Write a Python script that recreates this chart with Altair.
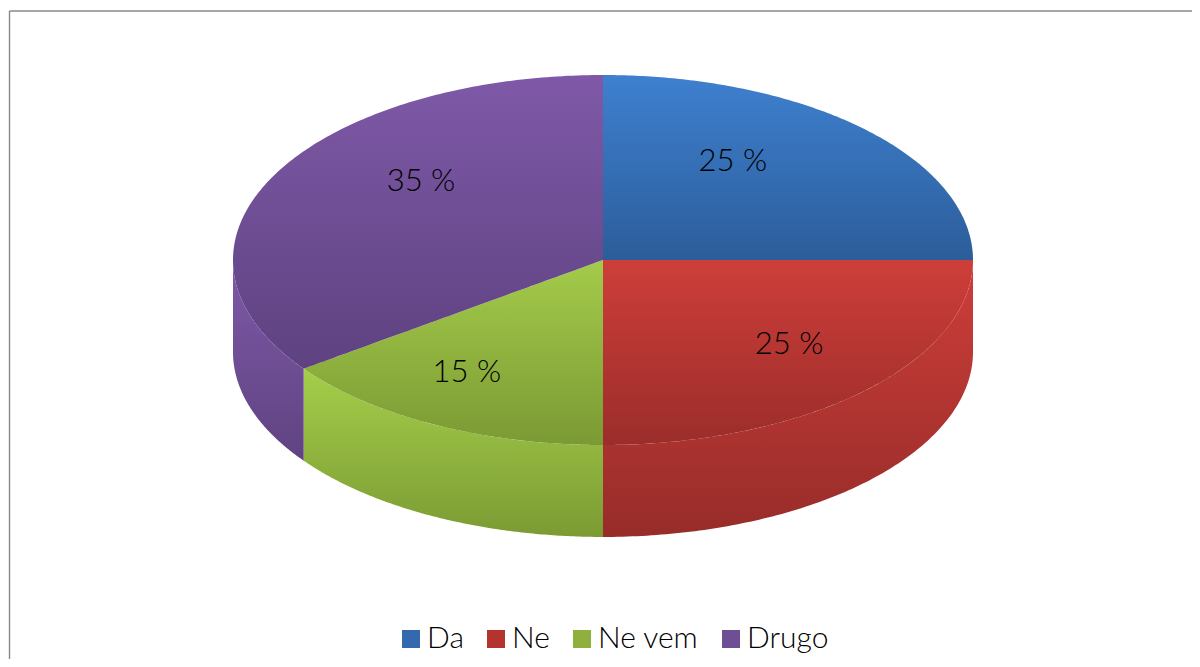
import numpy as np
import pandas as pd
import altair as alt

categories = ["Da", "Ne", "Ne vem", "Drugo"]
shares = [25, 25, 15, 35]
labels = ["25 %", "25 %", "15 %", "35 %"]
legend_colors = ["#3569AE", "#B5332F", "#8FB03E", "#6E4E94"]
top_colors = {
    "Da": ("#3E80CF", "#2C5D9A"),
    "Ne": ("#CE3E3A", "#9B2D2A"),
    "Ne vem": ("#A4CB4A", "#7B9A34"),
    "Drugo": ("#7F59A8", "#5E4280"),
}
wall_colors = {
    "Ne": ("#CE3E3A", "#972C29"),
    "Ne vem": ("#A5CE4A", "#7B9B33"),
    "Drugo": ("#7F59A8", "#5F4381"),
}
label_x = [0.351, 0.503, -0.368, -0.492]
label_y = [0.532, -0.457, -0.613, 0.424]

DEPTH = 0.497
X_DOMAIN = [-1.6081, 1.5919]
Y_DOMAIN = [-2.1568, 1.3622]

edges = np.cumsum([0] + shares) / 100 * 2 * np.pi


def gradient(pair):
    return alt.LinearGradient(
        gradient="linear", x1=0, x2=0, y1=0, y2=1,
        stops=[alt.GradientStop(color=pair[0], offset=0),
               alt.GradientStop(color=pair[1], offset=1)],
    )


def face_rows(a, b):
    th = np.linspace(a, b, 160)
    px = np.r_[0.0, np.sin(th)]
    py = np.r_[0.0, np.cos(th)]
    xs = np.unique(np.round(px, 6))
    rows = []
    for x in xs:
        ys = []
        n = len(px)
        for i in range(n):
            j = (i + 1) % n
            x0, x1, y0, y1 = px[i], px[j], py[i], py[j]
            lo, hi = min(x0, x1) - 1e-6, max(x0, x1) + 1e-6
            if lo <= x <= hi:
                if abs(x1 - x0) < 1e-9:
                    ys += [y0, y1]
                else:
                    t = min(1, max(0, (x - x0) / (x1 - x0)))
                    ys.append(y0 + t * (y1 - y0))
        rows.append({"x": float(x), "y": float(max(ys)), "y2": float(min(ys))})
    return pd.DataFrame(rows)


def wall_rows(a, b):
    a, b = max(a, np.pi / 2), min(b, 3 * np.pi / 2)
    th = np.linspace(a, b, 120)
    return pd.DataFrame({"x": np.sin(th), "y": np.cos(th), "y2": np.cos(th) - DEPTH}).sort_values("x")


xs = alt.Scale(domain=X_DOMAIN, nice=False, zero=False)
ys = alt.Scale(domain=Y_DOMAIN, nice=False, zero=False)
X = alt.X("x:Q", scale=xs, axis=None)
Y = alt.Y("y:Q", scale=ys, axis=None)


def area(df, pair):
    return alt.Chart(df).mark_area(
        color=gradient(pair), interpolate="linear", orient="vertical"
    ).encode(x=X, y=Y, y2=alt.Y2("y2:Q"))


layers = []
for i, name in enumerate(categories):
    if name in wall_colors:
        layers.append(area(wall_rows(edges[i], edges[i + 1]), wall_colors[name]))
for i, name in enumerate(categories):
    layers.append(area(face_rows(edges[i], edges[i + 1]), top_colors[name]))

table = pd.DataFrame({"cat": categories, "label": labels, "x": label_x, "y": label_y})

text = alt.Chart(table).mark_text(
    font="Lato", fontSize=31, fontWeight=300, color="#000000", align="center", baseline="middle"
).encode(x=X, y=Y, text="label:N")

legend = alt.Chart(table).mark_point(filled=True, shape="square", opacity=0, size=1).encode(
    x=X, y=Y,
    color=alt.Color(
        "cat:N",
        scale=alt.Scale(domain=categories, range=legend_colors),
        legend=alt.Legend(
            title=None, orient="none", legendX=388, legendY=616, direction="horizontal",
            columns=4, gridAlign="none", columnPadding=17,
            symbolType="square", symbolSize=324, symbolOpacity=1, symbolStrokeWidth=0,
            labelFont="Lato", labelFontSize=30, labelFontWeight=300, labelColor="#000000",
            labelOffset=1, labelLimit=200,
        ),
    ),
)

frame = pd.DataFrame({
    "x": [-1.604, -1.604],
    "x2": [-1.604, 1.5919],
    "y": [1.346, 1.346],
    "y2": [-2.1568, 1.346],
})
frame_rule = alt.Chart(frame).mark_rule(color="#888888", strokeWidth=1.4).encode(
    x=X, x2="x2:Q", y=Y, y2="y2:Q"
)

chart = alt.layer(frame_rule, *layers, text, legend).properties(
    width=1184, height=651, padding=0, autosize=alt.AutoSizeParams(type="none")
).configure_view(stroke=None)

chart.save("out.html", embed_options={"renderer": "svg", "actions": False})
